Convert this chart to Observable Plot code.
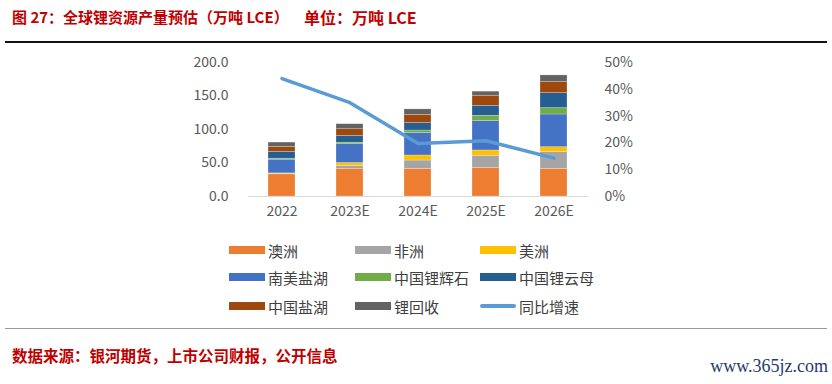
<!DOCTYPE html>
<html>
<head>
<meta charset="utf-8">
<script src="https://cdn.jsdelivr.net/npm/d3@7"></script>
<script src="https://cdn.jsdelivr.net/npm/@observablehq/plot@0.6"></script>
<style>
  body { margin: 0; background: #fff; }
  #page { position: relative; width: 832px; height: 384px; overflow: hidden; font-family: "Noto Sans CJK SC", "Noto Sans", sans-serif; }
  .title { position: absolute; top: 6px; font-size: 15px; font-weight: bold; color: #c00000; white-space: nowrap; }
  .topline { position: absolute; left: 5px; width: 822px; top: 41px; height: 1.5px; background: #111; }
  .botline { position: absolute; left: 5px; width: 822px; top: 328px; height: 1px; background: #9a9a9a; }
  .footer { position: absolute; left: 12px; top: 344px; font-size: 15.5px; font-weight: bold; color: #c00000; white-space: nowrap; }
  .wm { position: absolute; right: 4px; top: 356px; font-family: "Liberation Serif", "DejaVu Serif", serif; font-size: 18px; color: #1f3a6e; white-space: nowrap; }
  #chart { position: absolute; left: 0; top: 45px; }
  #legend { position: absolute; left: 0; top: 0; }
  .li { position: absolute; display: flex; align-items: center; font-size: 15px; color: #404040; height: 20px; white-space: nowrap; }
  .sw { width: 36px; height: 8px; margin-right: 3px; flex: none; }
</style>
</head>
<body>
<div id="page">
  <div class="title" style="left:12px">图 27：全球锂资源产量预估（万吨 LCE）</div>
  <div class="title" style="left:304px; font-size:16px; top:5px">单位：万吨 LCE</div>
  <div class="topline"></div>
  <div id="chart"></div>
  <div id="legend"></div>
  <div class="botline"></div>
  <div class="footer">数据来源：银河期货，上市公司财报，公开信息</div>
  <div class="wm">www.365jz.com</div>
</div>
<script>
const years = ["2022", "2023E", "2024E", "2025E", "2026E"];
const seriesNames = ["澳洲", "非洲", "美洲", "南美盐湖", "中国锂辉石", "中国锂云母", "中国盐湖", "锂回收"];
const seriesColors = ["#ED7D31", "#A5A5A5", "#FFC000", "#4472C4", "#70AD47", "#255E91", "#9E480E", "#636363"];
const australia = [33.0, 41.4, 41.3, 42.8, 41.3];
const africa = [0.5, 4.0, 12.4, 17.9, 24.8];
const americas = [1.0, 4.5, 7.5, 8.0, 7.5];
const saltLakeSA = [20.5, 28.0, 33.8, 43.8, 48.8];
const chinaSpodumene = [1.5, 2.5, 3.5, 8.0, 9.5];
const chinaLepidolite = [10.0, 10.0, 11.0, 15.0, 22.4];
const chinaSaltLake = [7.5, 10.0, 12.5, 15.0, 16.4];
const recycling = [6.5, 7.5, 8.0, 6.0, 10.0];
const growthName = "同比增速";
const growthColor = "#5B9BD5";
const growth = [44.0, 35.0, 19.8, 20.8, 14.3];
const leftTicks = [0, 50, 100, 150, 200];
const rightTicks = [0, 10, 20, 30, 40, 50];

const seriesValues = [australia, africa, americas, saltLakeSA, chinaSpodumene, chinaLepidolite, chinaSaltLake, recycling];
const table = [];
seriesNames.forEach((s, i) => years.forEach((y, j) => table.push({year: y, series: s, value: seriesValues[i][j]})));
const lineData = years.map((y, j) => ({year: y, pct: growth[j]}));

const tickFont = {fontSize: 14, fill: "#595959"};
const chart = Plot.plot({
  width: 832,
  height: 185,
  marginLeft: 248,
  marginRight: 244,
  marginTop: 17,
  marginBottom: 34,
  style: {fontFamily: "'Noto Sans CJK SC', 'Noto Sans', sans-serif", fontSize: "14px", color: "#595959", background: "transparent"},
  x: {domain: years, paddingInner: 0.6, paddingOuter: 0.3, label: null},
  y: {domain: [0, 200], label: null},
  color: {domain: seriesNames, range: seriesColors},
  marks: [
    Plot.barY(table, Plot.stackY({order: seriesNames, x: "year", y: "value", fill: "series", stroke: "#fff", strokeWidth: 0.4, strokeOpacity: 0.6})),
    Plot.ruleY([0], {stroke: "#d9d9d9", strokeWidth: 1.2}),
    Plot.line(lineData, {x: "year", y: d => d.pct * 4, stroke: growthColor, strokeWidth: 3.5, strokeLinejoin: "round", strokeLinecap: "round"}),
    Plot.axisY(leftTicks, {anchor: "left", tickSize: 0, tickPadding: 20, tickFormat: d3.format(".1f"), label: null, ...tickFont}),
    Plot.axisY(rightTicks.map(d => d * 4), {anchor: "right", tickSize: 0, tickPadding: 16, tickFormat: d => (d / 4) + "%", label: null, textAnchor: "start", ...tickFont}),
    Plot.axisX({tickSize: 0, tickPadding: 10, label: null, ...tickFont})
  ]
});
document.getElementById("chart").appendChild(chart);

// legend
const legend = document.getElementById("legend");
const items = seriesNames.map((s, i) => ({name: s, color: seriesColors[i], line: false}));
items.push({name: growthName, color: growthColor, line: true});
const colX = [229, 355, 480];
const rowY = [240, 267, 296];
items.forEach((it, k) => {
  const r = Math.floor(k / 3), c = k % 3;
  const el = document.createElement("div");
  el.className = "li";
  el.style.left = colX[c] + "px";
  el.style.top = rowY[r] + "px";
  const sw = document.createElement("div");
  sw.className = "sw";
  sw.style.background = it.color;
  if (it.line) { sw.style.height = "4px"; sw.style.borderRadius = "2px"; }
  el.appendChild(sw);
  const t = document.createElement("span");
  t.textContent = it.name;
  el.appendChild(t);
  legend.appendChild(el);
});
</script>
</body>
</html>
